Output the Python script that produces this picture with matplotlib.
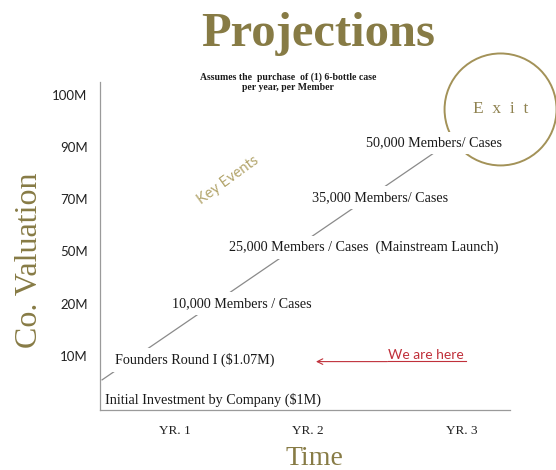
import matplotlib
matplotlib.use("Agg")
import matplotlib.pyplot as plt

# valuation levels shown on the y axis (categorical, bottom to top)
val_labels = ["10M", "20M", "50M", "70M", "90M", "100M"]
val_pos = [1, 2, 3, 4, 5, 6]

# time axis
yr_labels = ["YR. 1", "YR. 2", "YR. 3"]
yr_pos = [1.0, 2.0, 3.16]

# key events: label, time (left edge of label), valuation level
event_labels = [
    "Initial Investment by Company ($1M)",
    "Founders Round I ($1.07M)",
    "10,000 Members / Cases",
    "25,000 Members / Cases  (Mainstream Launch)",
    "35,000 Members/ Cases",
    "50,000 Members/ Cases",
]
event_time = [0.47, 0.55, 0.98, 1.41, 2.03, 2.44]
event_level = [0.16, 0.92, 2.0, 3.08, 4.03, 5.08]

# trend line of key events (start, end)
trend_time = [0.451, 3.06]
trend_level = [0.54, 5.08]

exit_time, exit_level = 3.45, 5.72
here_time, here_level = 2.60, 1.02
arrow_to = 2.04

olive = "#877b45"
olive_light = "#b3a56c"
red = "#c0303a"
serif = "Liberation Serif"
sans = "Lato"

fig = plt.figure(figsize=(5.56, 4.70), dpi=100)
ax = fig.add_axes([0.180, 0.128, 0.737, 0.698])
ax.set_xlim(0.436, 3.52)
ax.set_ylim(-0.034, 6.25)

for s in ["top", "right"]:
    ax.spines[s].set_visible(False)
for s in ["left", "bottom"]:
    ax.spines[s].set_color("#9a9a9a")
    ax.spines[s].set_linewidth(0.9)
    ax.spines[s].set_zorder(5)

ax.set_yticks(val_pos)
ax.set_yticklabels(val_labels, fontfamily=sans, fontsize=9.5, color="#222222")
ax.set_xticks(yr_pos)
ax.set_xticklabels(yr_labels, fontfamily=serif, fontsize=9.5, color="#222222")
ax.tick_params(axis="y", length=0, pad=9)
ax.tick_params(axis="x", length=0, pad=11)

fig.text(0.053, 0.447, "Co. Valuation", fontfamily=serif, fontsize=23, color=olive,
         rotation=90, ha="center", va="center")
fig.text(0.565, 0.024, "Time", fontfamily=serif, fontsize=20, color=olive,
         ha="center", va="center")

# trend line, hidden behind the event labels
ax.plot(trend_time, trend_level, color="#8a8a8a", lw=0.9, zorder=1)

for lab, t, lv in zip(event_labels, event_time, event_level):
    ax.text(t, lv, lab, fontfamily=serif, fontsize=10.2, color="#1a1a1a",
            ha="left", va="center", zorder=3,
            bbox=dict(facecolor="white", edgecolor="none", pad=3.5))

ax.text(1.40, 4.37, "Key Events", fontfamily=sans, fontsize=10.5,
        color=olive_light, rotation=36, ha="center", va="center")

# we are here
ax.annotate("", xy=(arrow_to, here_level - 0.13), xytext=(here_time + 0.02, here_level - 0.13),
            arrowprops=dict(arrowstyle="->", color=red, lw=0.8))
ax.text(here_time, here_level, "We are here", fontfamily=sans, fontsize=10,
        color=red, ha="left", va="center")
ax.plot([here_time, here_time + 0.59], [here_level - 0.11, here_level - 0.11],
        color=red, lw=0.8)

# exit circle
ax.scatter([exit_time], [exit_level], s=6500, facecolors="none",
           edgecolors="#a39258", linewidths=1.4, clip_on=False, zorder=2)
ax.text(exit_time, exit_level, "E  x  i  t", fontfamily=serif, fontsize=12.5,
        color="#8f8250", ha="center", va="center")

fig.text(0.572, 0.928, "Projections", fontfamily=serif, fontweight="bold",
         fontsize=35, color=olive, ha="center", va="center")
fig.text(0.518, 0.826, "Assumes the  purchase  of (1) 6-bottle case\nper year, per Member",
         fontfamily=serif, fontweight="bold", fontsize=7, color="#1a1a1a",
         ha="center", va="center", linespacing=1.15)

fig.savefig("out.png", dpi=100, facecolor="white")
